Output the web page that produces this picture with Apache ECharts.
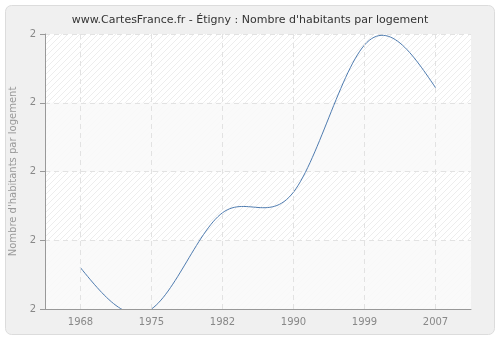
<!DOCTYPE html>
<html><head><meta charset="utf-8">
<script src="https://cdn.jsdelivr.net/npm/echarts@6/dist/echarts.min.js"></script>
<style>html,body{margin:0;padding:0;background:#fff}#c{width:500px;height:340px}</style>
</head><body><div id="c"></div>
<script>
var categories = ['1968','1975','1982','1990','1999','2007'];
var values = [2.030, 2.0, 2.070, 2.085, 2.192, 2.161];
var titleText = "www.CartesFrance.fr - Étigny : Nombre d'habitants par logement";
var yName = "Nombre d'habitants par logement";

var pc = document.createElement('canvas');
pc.width = 6; pc.height = 6;
var g = pc.getContext('2d');
g.fillStyle = '#ffffff'; g.fillRect(0,0,6,6);
g.strokeStyle = '#ededed'; g.lineWidth = 1;
g.beginPath(); g.moveTo(-1,7); g.lineTo(7,-1); g.stroke();
g.beginPath(); g.moveTo(-1,1); g.lineTo(1,-1); g.stroke();
g.beginPath(); g.moveTo(5,7); g.lineTo(7,5); g.stroke();

// natural cubic spline through pixel points (rendering only)
function splinePath(pts, steps) {
  var n = pts.length, ys = pts.map(function(p){return p[1];});
  var M = new Array(n).fill(0);
  if (n > 2) {
    var m = n - 2, c = [], d = [];
    for (var i = 0; i < m; i++) {
      var rhs = 6 * (ys[i+2] - 2*ys[i+1] + ys[i]);
      if (i === 0) { c[i] = 1/4; d[i] = rhs/4; }
      else { var den = 4 - c[i-1]; c[i] = 1/den; d[i] = (rhs - d[i-1]) / den; }
    }
    for (var j = m - 1; j >= 0; j--) {
      M[j+1] = d[j] - (j < m - 1 ? c[j] * M[j+2] : 0);
    }
  }
  var out = [];
  for (var k = 0; k < n - 1; k++) {
    for (var s = 0; s <= steps; s++) {
      if (k > 0 && s === 0) continue;
      var t = s / steps, u = 1 - t;
      var x = pts[k][0] * u + pts[k+1][0] * t;
      var y = ys[k]*u + ys[k+1]*t + ((u*u*u - u) * M[k] + (t*t*t - t) * M[k+1]) / 6;
      out.push([x, y]);
    }
  }
  return out;
}

var chart = echarts.init(document.getElementById('c'), null, {renderer:'canvas'});
chart.setOption({
  animation: false,
  graphic: [{type:'rect', z:-10, shape:{x:5.5,y:5.5,width:489,height:329,r:6},
    style:{fill:'#f0f0f0', stroke:'#dcdcdc', lineWidth:1}}],
  title: {text: titleText, left: 'center', top: 10,
    textStyle:{fontFamily:'DejaVu Sans', fontSize:11, fontWeight:'normal', color:'#333'}},
  grid: {left: 41, right: 29, top: 34, bottom: 31, show: true,
    backgroundColor: {image: pc, repeat: 'repeat'}, borderWidth: 0},
  xAxis: {type:'category', data: categories, boundaryGap: true,
    axisLine:{lineStyle:{color:'#999'}},
    axisTick:{alignWithLabel:true, length:5, lineStyle:{color:'#999'}},
    axisLabel:{color:'#888', fontFamily:'DejaVu Sans', fontSize:10, margin:8},
    splitLine:{show:false}},
  yAxis: {type:'value', min: 2.0, max: 2.2, interval: 0.05,
    name: yName, nameLocation:'middle', nameGap: 27,
    nameTextStyle:{color:'#999', fontFamily:'DejaVu Sans', fontSize:10},
    axisLine:{show:true, lineStyle:{color:'#999'}},
    axisTick:{show:true, length:5, lineStyle:{color:'#999'}},
    axisLabel:{color:'#888', fontFamily:'DejaVu Sans', fontSize:10, margin:9,
      formatter: function(v){ return Math.round(v).toString(); }},
    splitArea:{show:true, areaStyle:{color:['rgba(249,249,249,0.85)','rgba(255,255,255,0)']}},
    splitLine:{show:true, lineStyle:{color:'#e2e2e2', type:[5,4]}}},
  series: [
    {type:'line', data: values, showSymbol:false, silent:true,
      lineStyle:{opacity:0}, z:1,
      markLine:{silent:true, symbol:['none','none'], label:{show:false},
        lineStyle:{color:'#e2e2e2', type:[5,4], width:1},
        data: categories.map(function(c){ return {xAxis:c}; })}},
    {type:'custom', z:3, silent:true,
      data: values.map(function(v, i){ return [i, v]; }),
      encode:{x:0, y:1},
      renderItem: function(params, api) {
        if (params.dataIndex !== 0) return null;
        var pts = values.map(function(v, i){ return api.coord([i, v]); });
        var cs = params.coordSys;
        return {type:'group',
          clipPath:{type:'rect', shape:{x:cs.x, y:cs.y, width:cs.width, height:cs.height}},
          children:[{type:'polyline', shape:{points: splinePath(pts, 30)},
            style:{fill:'none', stroke:'#4f7cb0', lineWidth:1}}]};
      }}
  ]
});
</script></body></html>
